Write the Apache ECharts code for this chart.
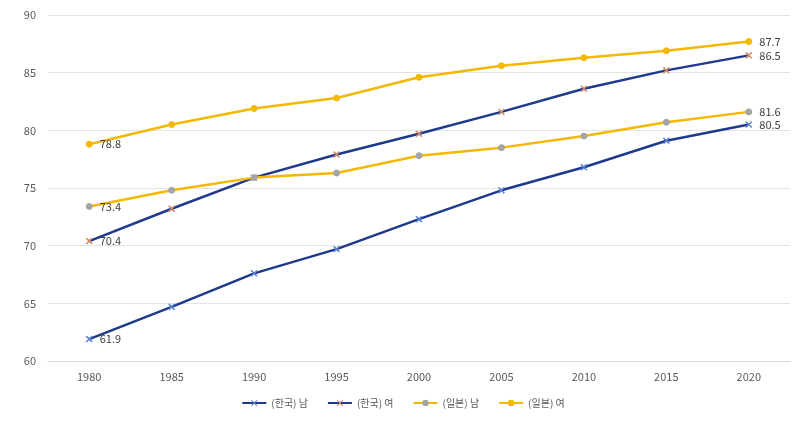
<!DOCTYPE html>
<html>
<head>
<meta charset="utf-8">
<script src="https://cdn.jsdelivr.net/npm/echarts@6/dist/echarts.min.js"></script>
<style>
  html, body { margin: 0; padding: 0; background: #fff; }
  #chartmain { width: 806px; height: 432px; }
</style>
</head>
<body>
<div id="chartmain"></div>
<script>
var years = ['1980', '1985', '1990', '1995', '2000', '2005', '2010', '2015', '2020'];
var korMale = [61.9, 64.7, 67.6, 69.7, 72.3, 74.8, 76.8, 79.1, 80.5];
var korFemale = [70.4, 73.2, 75.9, 77.9, 79.7, 81.6, 83.6, 85.2, 86.5];
var jpnMale = [73.4, 74.8, 75.9, 76.3, 77.8, 78.5, 79.5, 80.7, 81.6];
var jpnFemale = [78.8, 80.5, 81.9, 82.8, 84.6, 85.6, 86.3, 86.9, 87.7];
var names = ['(한국) 남', '(한국) 여', '(일본) 남', '(일본) 여'];

// X 모양 마커
var crossSymbol = 'path://M0,1L1,0L5,4L9,0L10,1L6,5L10,9L9,10L5,6L1,10L0,9L4,5Z';

function makeData(arr) {
	var out = [];
	for (var i = 0; i < arr.length; i++) {
		out.push({
			value : arr[i],
			label : { show : (i == 0 || i == arr.length - 1) }
		});
	}
	return out;
}

function makeSeries(name, arr, lineColor, markColor, symbol, size) {
	return {
		name : name,
		type : 'line',
		data : makeData(arr),
		symbol : symbol,
		symbolSize : size,
		showAllSymbol : true,
		lineStyle : { color : lineColor, width : 2.5 },
		itemStyle : { color : markColor, borderColor : markColor },
		label : {
			position : 'right',
			distance : 7,
			color : '#404040',
			fontSize : 11
		},
		emphasis : { disabled : true },
		z : 2
	};
}

var option = {
	backgroundColor : '#ffffff',
	animation : false,
	textStyle : { fontFamily : 'Noto Sans CJK KR, Noto Sans, sans-serif' },
	grid : {
		left : 48,
		right : 16,
		top : 15,
		bottom : 71,
		containLabel : false
	},
	legend : {
		bottom : 19,
		left : 'center',
		itemWidth : 24,
		itemHeight : 8,
		itemGap : 19,
		textStyle : { color : '#595959', fontSize : 10 },
		data : names
	},
	xAxis : {
		type : 'category',
		data : years,
		boundaryGap : true,
		axisLine : { lineStyle : { color : '#d9d9d9' } },
		axisTick : { show : false },
		axisLabel : { color : '#595959', fontSize : 11, margin : 10 }
	},
	yAxis : {
		type : 'value',
		min : 60,
		max : 90,
		interval : 5,
		axisLine : { show : false },
		axisTick : { show : false },
		axisLabel : { color : '#595959', fontSize : 11, margin : 12 },
		splitLine : { lineStyle : { color : '#e3e3e3', width : 1 } }
	},
	series : [
		makeSeries(names[0], korMale, '#1f3a8c', '#5a86d4', crossSymbol, 6),
		makeSeries(names[1], korFemale, '#1f3a8c', '#d08a6a', crossSymbol, 6),
		makeSeries(names[2], jpnMale, '#f5b800', '#a5a5a5', 'circle', 6),
		makeSeries(names[3], jpnFemale, '#f5b800', '#f5b800', 'circle', 6)
	]
};

var myChart = echarts.init(document.getElementById('chartmain'));
myChart.setOption(option);
</script>
</body>
</html>
